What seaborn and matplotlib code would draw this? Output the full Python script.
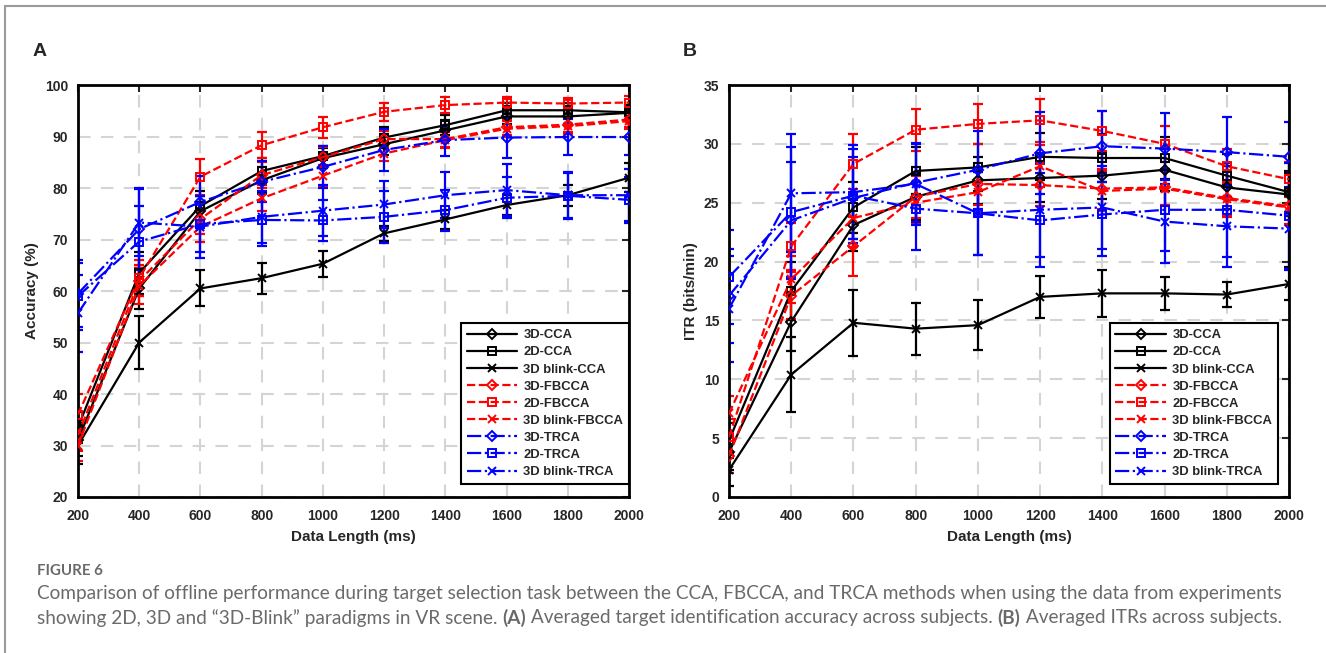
import matplotlib.pyplot as plt
from matplotlib.lines import Line2D
import seaborn as sns
import pandas as pd

data_length = [200, 400, 600, 800, 1000, 1200, 1400, 1600, 1800, 2000]
methods = ["3D-CCA", "2D-CCA", "3D blink-CCA",
           "3D-FBCCA", "2D-FBCCA", "3D blink-FBCCA",
           "3D-TRCA", "2D-TRCA", "3D blink-TRCA"]

# (A) accuracy (%)
acc_3d_cca = [31.0, 60.5, 75.5, 81.5, 85.8, 88.5, 91.2, 93.9, 93.9, 94.6]
acc_2d_cca = [33.5, 63.5, 76.5, 83.3, 86.2, 89.8, 92.2, 95.1, 95.1, 94.7]
acc_blink_cca = [30.0, 50.0, 60.5, 62.5, 65.3, 71.2, 73.9, 76.7, 78.6, 82.0]
acc_3d_fbcca = [32.0, 62.0, 74.0, 82.5, 86.0, 89.5, 89.5, 91.8, 92.3, 93.3]
acc_2d_fbcca = [36.0, 62.5, 82.2, 88.3, 91.8, 94.8, 96.1, 96.6, 96.4, 96.6]
acc_blink_fbcca = [30.0, 61.0, 72.5, 78.0, 82.4, 86.7, 89.3, 91.5, 92.0, 93.0]
acc_3d_trca = [59.5, 72.0, 77.3, 81.2, 84.1, 87.4, 89.3, 89.8, 89.9, 89.9]
acc_2d_trca = [59.0, 69.6, 73.0, 73.8, 73.7, 74.4, 75.7, 78.1, 78.5, 77.7]
acc_blink_trca = [55.7, 73.3, 72.5, 74.4, 75.6, 76.8, 78.6, 79.6, 78.6, 78.6]

acc_err_3d_cca = [3.0, 4.0, 3.0, 2.5, 2.0, 2.0, 2.0, 1.5, 1.5, 1.5]
acc_err_2d_cca = [3.0, 4.0, 3.0, 2.5, 2.0, 2.0, 2.0, 1.5, 1.5, 1.5]
acc_err_blink_cca = [3.5, 5.2, 3.5, 3.0, 2.5, 1.5, 1.8, 2.0, 2.0, 2.8]
acc_err_3d_fbcca = [3.0, 3.0, 3.0, 2.5, 2.0, 1.5, 1.5, 1.5, 1.5, 1.5]
acc_err_2d_fbcca = [4.0, 3.5, 3.5, 2.5, 2.0, 1.8, 1.5, 1.0, 1.0, 1.2]
acc_err_blink_fbcca = [3.0, 3.5, 3.0, 2.5, 2.0, 1.5, 1.5, 1.5, 1.5, 1.5]
acc_err_3d_trca = [6.5, 8.0, 5.0, 4.0, 4.0, 4.0, 3.0, 4.0, 3.5, 3.5]
acc_err_2d_trca = [6.5, 7.0, 5.5, 5.0, 4.0, 5.0, 4.0, 4.0, 4.5, 4.5]
acc_err_blink_trca = [7.5, 6.5, 6.0, 5.0, 5.0, 4.5, 4.5, 5.0, 4.5, 5.0]

# (B) ITR (bits/min)
itr_3d_cca = [3.8, 14.9, 23.1, 25.5, 26.9, 27.1, 27.3, 27.8, 26.3, 25.7]
itr_2d_cca = [4.8, 17.5, 24.6, 27.7, 28.0, 28.9, 28.8, 28.8, 27.3, 25.9]
itr_blink_cca = [2.3, 10.4, 14.8, 14.3, 14.6, 17.0, 17.3, 17.3, 17.2, 18.1]
itr_3d_fbcca = [3.5, 17.1, 21.3, 25.5, 26.6, 26.5, 26.2, 26.3, 25.4, 24.7]
itr_2d_fbcca = [5.1, 21.3, 28.3, 31.2, 31.7, 32.0, 31.1, 30.0, 28.1, 27.0]
itr_blink_fbcca = [7.1, 18.5, 23.7, 25.0, 25.9, 28.1, 26.0, 26.2, 25.3, 24.6]
itr_3d_trca = [17.1, 23.5, 25.4, 26.7, 27.8, 29.2, 29.8, 29.6, 29.3, 28.9]
itr_2d_trca = [18.7, 24.2, 25.6, 24.5, 24.1, 23.5, 24.0, 24.4, 24.4, 23.9]
itr_blink_trca = [16.0, 25.8, 25.9, 26.6, 24.1, 24.4, 24.6, 23.4, 23.0, 22.8]

itr_err_3d_cca = [1.5, 2.5, 2.2, 2.0, 2.0, 2.0, 2.0, 1.8, 1.8, 1.8]
itr_err_2d_cca = [1.5, 2.5, 2.2, 2.0, 2.0, 2.0, 2.0, 1.8, 1.8, 1.8]
itr_err_blink_cca = [1.4, 3.2, 2.8, 2.2, 2.1, 1.8, 2.0, 1.4, 1.1, 1.4]
itr_err_3d_fbcca = [1.5, 2.0, 2.5, 1.8, 1.8, 1.8, 1.7, 1.5, 1.5, 1.5]
itr_err_2d_fbcca = [1.5, 2.0, 2.5, 1.8, 1.7, 1.8, 1.7, 1.5, 1.5, 1.5]
itr_err_blink_fbcca = [1.5, 2.0, 2.5, 1.8, 1.8, 1.8, 1.7, 1.5, 1.5, 1.5]
itr_err_3d_trca = [4.0, 5.0, 3.5, 3.3, 3.3, 3.5, 3.0, 3.0, 3.0, 3.0]
itr_err_2d_trca = [4.0, 5.5, 4.0, 3.5, 3.5, 4.0, 3.5, 3.5, 4.0, 4.5]
itr_err_blink_trca = [4.5, 5.0, 4.0, 3.5, 3.5, 4.0, 3.5, 3.5, 3.5, 3.5]

acc_values = [acc_3d_cca, acc_2d_cca, acc_blink_cca, acc_3d_fbcca, acc_2d_fbcca,
              acc_blink_fbcca, acc_3d_trca, acc_2d_trca, acc_blink_trca]
acc_errors = [acc_err_3d_cca, acc_err_2d_cca, acc_err_blink_cca, acc_err_3d_fbcca,
              acc_err_2d_fbcca, acc_err_blink_fbcca, acc_err_3d_trca, acc_err_2d_trca,
              acc_err_blink_trca]
itr_values = [itr_3d_cca, itr_2d_cca, itr_blink_cca, itr_3d_fbcca, itr_2d_fbcca,
              itr_blink_fbcca, itr_3d_trca, itr_2d_trca, itr_blink_trca]
itr_errors = [itr_err_3d_cca, itr_err_2d_cca, itr_err_blink_cca, itr_err_3d_fbcca,
              itr_err_2d_fbcca, itr_err_blink_fbcca, itr_err_3d_trca, itr_err_2d_trca,
              itr_err_blink_trca]

colors = ["black"] * 3 + ["#ff0000"] * 3 + ["#0000ff"] * 3
linestyles = ["-"] * 3 + ["--"] * 3 + ["-."] * 3
markers = ["D", "s", "x"] * 3

sns.set_style("white")
plt.rcParams["font.family"] = ["Liberation Sans", "DejaVu Sans"]

fig = plt.figure(figsize=(13.26, 6.53), dpi=100)
ax_a = fig.add_axes([0.0588, 0.2389, 0.4156, 0.6309])
ax_b = fig.add_axes([0.5498, 0.2389, 0.4223, 0.6309])


def draw_panel(ax, values, errors, ylabel, ylim, yticks, legend_anchor):
    for name, y, err, c, ls, m in zip(methods, values, errors, colors, linestyles, markers):
        df = pd.DataFrame({"Data Length (ms)": data_length, "value": y})
        ax.errorbar(data_length, y, yerr=err, fmt="none", ecolor=c,
                    elinewidth=1.6, capsize=3.5, capthick=1.6, zorder=2)
        sns.lineplot(df, x="Data Length (ms)", y="value", ax=ax, color=c,
                     linestyle=ls, marker=m, markersize=5 if m == "D" else 6,
                     markerfacecolor="none", markeredgecolor=c,
                     markeredgewidth=1.4, linewidth=1.6, label=name, zorder=3)
    ax.set_xlim(200, 2000)
    ax.set_ylim(*ylim)
    ax.set_xticks(data_length)
    ax.set_yticks(yticks)
    ax.grid(True, linestyle=(0, (6, 5)), color="#d4d4d4", linewidth=1.5)
    ax.set_axisbelow(True)
    for s in ax.spines.values():
        s.set_color("black")
        s.set_linewidth(2)
    ax.tick_params(direction="in", length=5, width=1.5, top=True, right=True,
                   labelsize=10)
    ax.tick_params(axis="x", pad=9)
    ax.tick_params(axis="y", pad=7)
    for lab in ax.get_xticklabels() + ax.get_yticklabels():
        lab.set_fontweight("bold")
    ax.set_xlabel("Data Length (ms)", fontsize=11, fontweight="bold", labelpad=5)
    ax.set_ylabel(ylabel, fontsize=11, fontweight="bold", labelpad=4)
    leg = ax.legend(loc="lower right", bbox_to_anchor=legend_anchor,
                    prop={"weight": "bold", "size": 9.4}, handlelength=3.9,
                    fancybox=False, framealpha=1, edgecolor="black",
                    borderaxespad=0, labelspacing=0.38, handletextpad=0.45,
                    borderpad=0.45)
    leg.get_frame().set_linewidth(1.5)


draw_panel(ax_a, acc_values, acc_errors, "Accuracy (%)", (20, 100),
           range(20, 101, 10), (1.0, 13 / 412))
draw_panel(ax_b, itr_values, itr_errors, "ITR (bits/min)", (0, 35),
           range(0, 36, 5), (1 - 11 / 560, 13 / 412))

fig.text(33 / 1326, 1 - 52 / 653, "A", fontsize=14, fontweight="bold", va="center")
fig.text(683 / 1326, 1 - 52 / 653, "B", fontsize=14, fontweight="bold", va="center")

# frame lines of the figure panel
fig.add_artist(Line2D([0.0038, 1], [0.9908, 0.9908], transform=fig.transFigure,
                      color="#9a9a9a", linewidth=1.5))
fig.add_artist(Line2D([0.0038, 0.0038], [0, 0.9908], transform=fig.transFigure,
                      color="#9a9a9a", linewidth=1.5))

cap_font = ["Lato", "DejaVu Sans"]
cap_size = 13.7
fig.text(37 / 1326, 1 - 571 / 653, "FIGURE 6", fontsize=10.8, color="#6a6a6a",
         family=cap_font, fontweight="bold", va="center")
fig.text(37 / 1326, 1 - 594 / 653,
         "Comparison of offline performance during target selection task between the CCA, "
         "FBCCA, and TRCA methods when using the data from experiments",
         fontsize=cap_size, color="#6a6a6a", family=cap_font, va="center")
line2 = fig.text(37 / 1326, 1 - 618 / 653,
                 "showing 2D, 3D and \u201c3D-Blink\u201d paradigms in VR scene. ",
                 fontsize=cap_size, color="#6a6a6a", family=cap_font, va="center")
fig.canvas.draw()
x_pos = line2.get_window_extent().x1
parts = [("(A)", "bold"), (" Averaged target identification accuracy across subjects. ", "normal"),
         ("(B)", "bold"), (" Averaged ITRs across subjects.", "normal")]
for txt, w in parts:
    t = fig.text(x_pos / 1326, 1 - 618 / 653, txt, fontsize=cap_size, color="#6a6a6a",
                 family=cap_font, fontweight=w, va="center")
    fig.canvas.draw()
    x_pos = t.get_window_extent().x1

fig.savefig("out.png", dpi=100)
